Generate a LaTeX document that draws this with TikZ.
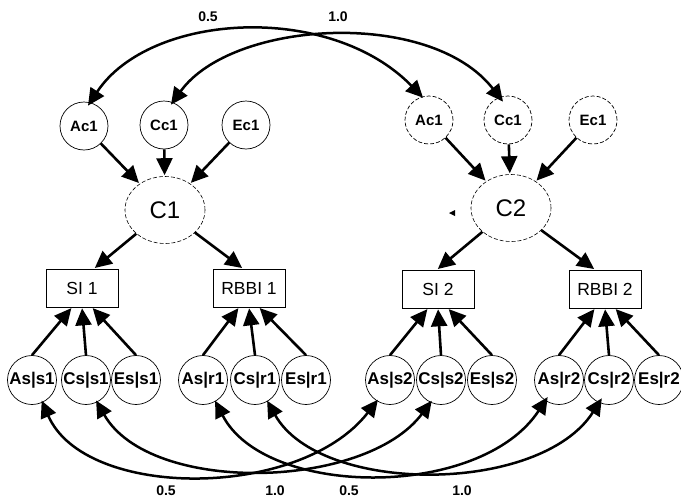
\documentclass[tikz,border=0pt]{standalone}
\usepackage{fontspec}
\setmainfont{Liberation Sans}
\usetikzlibrary{arrows.meta,shapes.geometric}
\begin{document}
\begin{tikzpicture}[x=1pt,y=-1pt,
  arr/.style={-{Triangle[length=17pt,width=16pt]},line width=2.6pt,shorten >=1pt},
  biarr/.style={{Triangle[length=17pt,width=16pt]}-{Triangle[length=17pt,width=16pt]},line width=2.5pt},
  topc/.style={circle,draw,line width=0.7pt,minimum size=48pt,inner sep=0pt,font=\fontsize{15}{16}\selectfont\bfseries},
  topcd/.style={topc,dash pattern=on 4pt off 2pt},
  botc/.style={circle,draw,line width=0.7pt,minimum size=49pt,inner sep=0pt,font=\fontsize{17}{18}\selectfont\bfseries},
  latent/.style={ellipse,draw,line width=0.6pt,dash pattern=on 4pt off 2pt,minimum width=80pt,minimum height=67pt,inner sep=0pt,font=\fontsize{24}{26}\selectfont},
  obs/.style={rectangle,draw,line width=0.7pt,minimum width=72pt,minimum height=38pt,inner sep=0pt,font=\fontsize{17.5}{19}\selectfont},
  num/.style={font=\fontsize{14}{15}\selectfont\bfseries,inner sep=0pt}]
\useasboundingbox (0,0) rectangle (681,501);
% top circles
\node[topc] (ac1l) at (84,126) {Ac1};
\node[topc] (cc1l) at (164,125) {Cc1};
\node[topc] (ec1l) at (246,125) {Ec1};
\node[topcd] (ac1r) at (429,120) {Ac1};
\node[topcd] (cc1r) at (508,120) {Cc1};
\node[topcd] (ec1r) at (593,120) {Ec1};
% latent
\node[latent] (c1) at (165,210) {C1};
\node[latent] (c2) at (511,208) {C2};
\fill (455,210) -- (449,213) -- (455,216) -- cycle;
% boxes
\node[obs] (si1) at (82,288) {SI 1};
\node[obs] (rb1) at (249,288) {RBBI 1};
\node[obs] (si2) at (438,289) {SI 2};
\node[obs] (rb2) at (605,289) {RBBI 2};
% bottom circles
\node[botc] (as1) at (32,380) {As|s1};
\node[botc] (cs1) at (86,380) {Cs|s1};
\node[botc] (es1) at (136,380) {Es|s1};
\node[botc] (ar1) at (203,380) {As|r1};
\node[botc] (cr1) at (255,380) {Cs|r1};
\node[botc] (er1) at (306,380) {Es|r1};
\node[botc] (as2) at (390,380) {As|s2};
\node[botc] (cs2) at (441,380) {Cs|s2};
\node[botc] (es2) at (492,380) {Es|s2};
\node[botc] (ar2) at (559,380) {As|r2};
\node[botc] (cr2) at (609,380) {Cs|r2};
\node[botc] (er2) at (659,380) {Es|r2};
% top -> latent
\draw[arr] (ac1l) -- (c1);
\draw[arr] (cc1l) -- (c1);
\draw[arr] (ec1l) -- (c1);
\draw[arr] (ac1r) -- (c2);
\draw[arr] (cc1r) -- (c2);
\draw[arr] (ec1r) -- (c2);
% latent -> boxes
\draw[arr] (c1) -- ([xshift=12pt]si1.north);
\draw[arr] (c1) -- ([xshift=-6pt]rb1.north);
\draw[arr] (c2) -- ([xshift=-1pt]si2.north);
\draw[arr] (c2) -- ([xshift=-10pt]rb2.north);
% bottom -> boxes
\foreach \a/\b/\c/\bx in {as1/cs1/es1/si1, ar1/cr1/er1/rb1, as2/cs2/es2/si2, ar2/cr2/er2/rb2}{
  \draw[arr] (\a.north) -- ([xshift=-10pt]\bx.south);
  \draw[arr] (\b.north) -- (\bx.south);
  \draw[arr] (\c.north) -- ([xshift=10pt]\bx.south);
}
% top covariance curves
\draw[biarr] ([shift={(4pt,-4pt)}]ac1l.north) .. controls (150,12) and (330,2) .. ([shift={(-6pt,-2pt)}]ac1r.north);
\draw[biarr] ([shift={(7pt,-4pt)}]cc1l.north) .. controls (232,20) and (430,8) .. ([shift={(-5pt,-6pt)}]cc1r.north);
\node[num] (t05) at (208,17) {0.5};
\node[num] (t10) at (338,17) {1.0};
% bottom covariance curves
\draw[biarr] ([shift={(2pt,3pt)}]as1.-72) .. controls (85,500) and (300,500) .. ([shift={(-2pt,3pt)}]as2.-114);
\draw[biarr] ([shift={(2pt,3pt)}]cs1.-71) .. controls (150,495) and (365,490) .. ([shift={(-2pt,3pt)}]cs2.-107);
\draw[biarr] ([shift={(2pt,2pt)}]ar1.-66) .. controls (265,498) and (480,500) .. ([shift={(-2pt,6pt)}]ar2.-112);
\draw[biarr] ([shift={(2pt,2pt)}]cr1.-66) .. controls (320,495) and (540,495) .. ([shift={(-2pt,6pt)}]cr2.-102);
\node[num] (b1) at (166,491) {0.5};
\node[num] (b2) at (275,491) {1.0};
\node[num] (b3) at (349,491) {0.5};
\node[num] (b4) at (462,491) {1.0};
\end{tikzpicture}
\end{document}
